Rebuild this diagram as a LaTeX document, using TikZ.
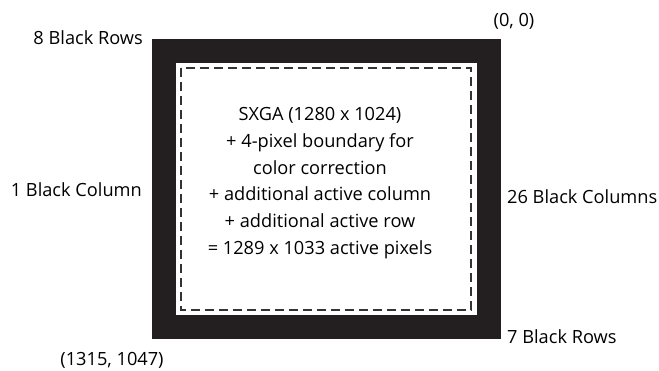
\documentclass[tikz,border=0pt]{standalone}
\usepackage{fontspec}
\setmainfont{Open Sans}
\definecolor{frameblack}{HTML}{231F20}
\definecolor{dashgray}{HTML}{333333}
\begin{document}
\begin{tikzpicture}[x=1pt,y=-1pt,
  lbl/.style={inner sep=0pt,font=\fontsize{18.2}{21}\selectfont,text=black},
  centertext/.style={inner sep=0pt,align=center,font=\fontsize{18.2}{26.8}\selectfont,text=black}]
\useasboundingbox[fill=white] (0,0) rectangle (659,371);
\fill[frameblack] (152,39.5) rectangle (500.5,339);
\fill[white] (176,63) rectangle (477,315);
\draw[dashgray,line width=1.3pt,dash pattern=on 9pt off 5pt] (181,68) rectangle (471,310);
\node[centertext] (main) at (320,183) {SXGA (1280 x 1024)\\+ 4-pixel boundary for\\color correction\\+ additional active column\\+ additional active row\\= 1289 x 1033 active pixels};
\node[lbl,anchor=base east] (toprows) at (143,45) {8 Black Rows};
\node[lbl,anchor=base] (origin) at (514,26.5) {(0, 0)};
\node[lbl,anchor=base east] (leftcol) at (142,197) {1 Black Column};
\node[lbl,anchor=base west] (rightcols) at (507,204) {26 Black Columns};
\node[lbl,anchor=base west] (botrows) at (507,344) {7 Black Rows};
\node[lbl,anchor=base] (corner) at (112,366) {(1315, 1047)};
\end{tikzpicture}
\end{document}
